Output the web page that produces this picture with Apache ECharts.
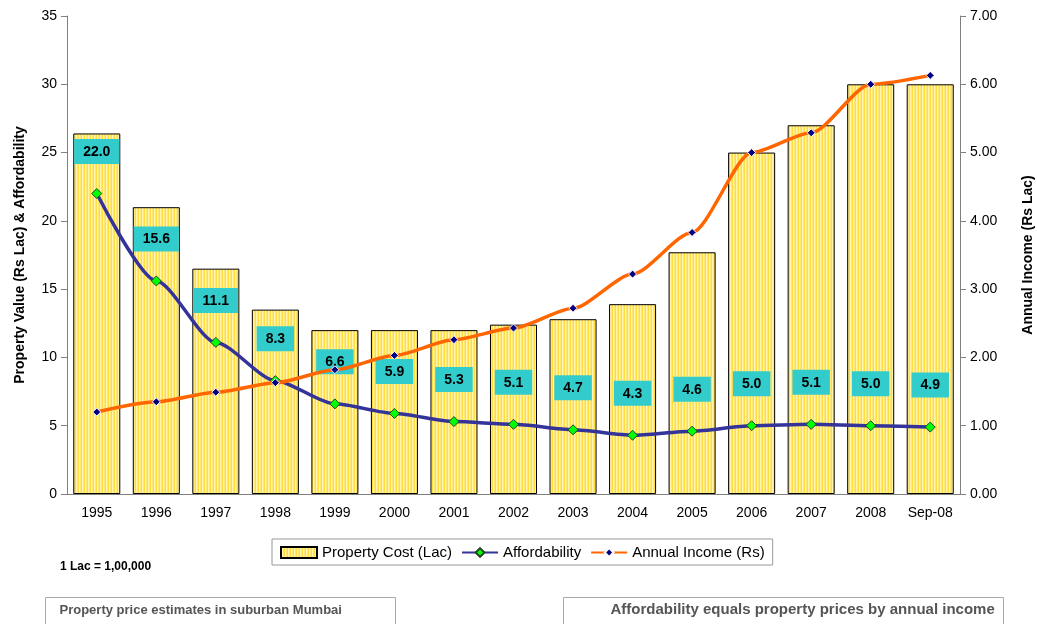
<!DOCTYPE html>
<html>
<head>
<meta charset="utf-8">
<script src="https://cdn.jsdelivr.net/npm/echarts@6/dist/echarts.min.js"></script>
<style>
  html, body { margin: 0; padding: 0; background: #fff; }
  #chart { width: 1037px; height: 624px; }
</style>
</head>
<body>
<div id="chart"></div>
<script>
const years = ['1995', '1996', '1997', '1998', '1999', '2000', '2001', '2002', '2003', '2004', '2005', '2006', '2007', '2008', 'Sep-08'];
const propertyCost = [26.4, 21.0, 16.5, 13.5, 12.0, 12.0, 12.0, 12.4, 12.8, 13.9, 17.7, 25.0, 27.0, 30.0, 30.0];
const affordability = [22.0, 15.6, 11.1, 8.3, 6.6, 5.9, 5.3, 5.1, 4.7, 4.3, 4.6, 5.0, 5.1, 5.0, 4.9];
const annualIncome = [1.2, 1.35, 1.49, 1.63, 1.82, 2.03, 2.26, 2.43, 2.72, 3.22, 3.83, 5.0, 5.29, 6.0, 6.13];

const font = 'Liberation Sans, Arial, sans-serif';

// vertical yellow stripes like the excel fill
function stripePattern() {
  const c = document.createElement('canvas');
  c.width = 3;
  c.height = 4;
  const ctx = c.getContext('2d');
  ctx.fillStyle = '#FFDC40';
  ctx.fillRect(0, 0, 1, 4);
  ctx.fillStyle = '#FFF4B0';
  ctx.fillRect(1, 0, 1, 4);
  ctx.fillStyle = '#FFE878';
  ctx.fillRect(2, 0, 1, 4);
  return { image: c, repeat: 'repeat' };
}

const chart = echarts.init(document.getElementById('chart'));

chart.setOption({
  animation: false,
  textStyle: { fontFamily: font },
  grid: { left: 67, right: 77, top: 16, bottom: 130, outerBoundsMode: 'none', containLabel: false },
  legend: {
    left: 272,
    top: 539,
    padding: [6, 8, 5, 8],
    borderColor: '#999',
    borderWidth: 1,
    itemGap: 9,
    itemWidth: 36,
    itemHeight: 11,
    textStyle: { fontFamily: font, fontSize: 15, color: '#000' },
    data: [
      { name: 'Property Cost (Lac)', icon: 'rect' },
      'Affordability',
      'Annual Income (Rs)'
    ]
  },
  xAxis: {
    type: 'category',
    data: years,
    axisLine: { lineStyle: { color: '#808080' } },
    axisTick: { length: 6, lineStyle: { color: '#808080' } },
    axisLabel: { color: '#000', fontSize: 14, margin: 12 }
  },
  yAxis: [
    {
      type: 'value',
      min: 0,
      max: 35,
      interval: 5,
      name: 'Property Value (Rs Lac) & Affordability',
      nameLocation: 'middle',
      nameGap: 40,
      nameTextStyle: { fontWeight: 'bold', fontSize: 14, color: '#000' },
      axisLine: { show: true, lineStyle: { color: '#808080' } },
      axisTick: { show: true, length: 6, lineStyle: { color: '#808080' } },
      splitLine: { show: false },
      axisLabel: { color: '#000', fontSize: 14, margin: 10 }
    },
    {
      type: 'value',
      min: 0,
      max: 7,
      interval: 1,
      position: 'right',
      name: 'Annual Income (Rs Lac)',
      nameLocation: 'middle',
      nameGap: 61,
      nameRotate: 90,
      nameTruncate: { maxWidth: 400 },
      nameTextStyle: { fontWeight: 'bold', fontSize: 14, color: '#000', width: 300, overflow: 'none' },
      axisLine: { show: true, lineStyle: { color: '#808080' } },
      axisTick: { show: true, length: 6, lineStyle: { color: '#808080' } },
      splitLine: { show: false },
      axisLabel: {
        color: '#000',
        fontSize: 14,
        margin: 10,
        formatter: (v) => v.toFixed(2)
      }
    }
  ],
  series: [
    {
      name: 'Property Cost (Lac)',
      type: 'bar',
      data: propertyCost,
      barCategoryGap: '21%',
      itemStyle: { color: stripePattern(), borderColor: '#000', borderWidth: 1 }
    },
    {
      name: 'Affordability',
      type: 'line',
      data: affordability,
      smooth: 0.25,
      smoothMonotone: 'x',
      symbol: 'diamond',
      symbolSize: 10,
      lineStyle: { color: '#333399', width: 3.5 },
      itemStyle: { color: '#00FF00', borderColor: '#224422', borderWidth: 1 },
      label: {
        show: true,
        position: 'top',
        distance: 24,
        backgroundColor: '#33CCCC',
        padding: [6, 9, 5, 9],
        color: '#000',
        fontWeight: 'bold',
        fontSize: 14,
        fontFamily: font,
        formatter: (p) => p.value.toFixed(1)
      },
      z: 3
    },
    {
      name: 'Annual Income (Rs)',
      type: 'line',
      yAxisIndex: 1,
      data: annualIncome,
      smooth: 0.25,
      smoothMonotone: 'x',
      symbol: 'diamond',
      symbolSize: 8,
      lineStyle: { color: '#FF6600', width: 3.5 },
      itemStyle: { color: '#000080', borderColor: '#fff', borderWidth: 1 },
      z: 4
    }
  ],
  graphic: [
    {
      type: 'text',
      left: 60,
      top: 561,
      style: { text: '1 Lac = 1,00,000', font: 'bold 12px ' + font, fill: '#000' }
    },
    {
      type: 'group',
      left: 45,
      top: 597,
      children: [
        { type: 'rect', shape: { x: 0, y: 0, width: 350, height: 40 }, style: { fill: '#fff', stroke: '#aaa', lineWidth: 1 } },
        { type: 'text', x: 14, y: 6, style: { text: 'Property price estimates in suburban Mumbai', font: 'bold 13px ' + font, fill: '#555' } }
      ]
    },
    {
      type: 'group',
      left: 563,
      top: 597,
      children: [
        { type: 'rect', shape: { x: 0, y: 0, width: 440, height: 40 }, style: { fill: '#fff', stroke: '#aaa', lineWidth: 1 } },
        { type: 'text', x: 47, y: 5, style: { text: 'Affordability equals property prices by annual income', font: 'bold 15px ' + font, fill: '#555' } }
      ]
    }
  ]
});
</script>
</body>
</html>
